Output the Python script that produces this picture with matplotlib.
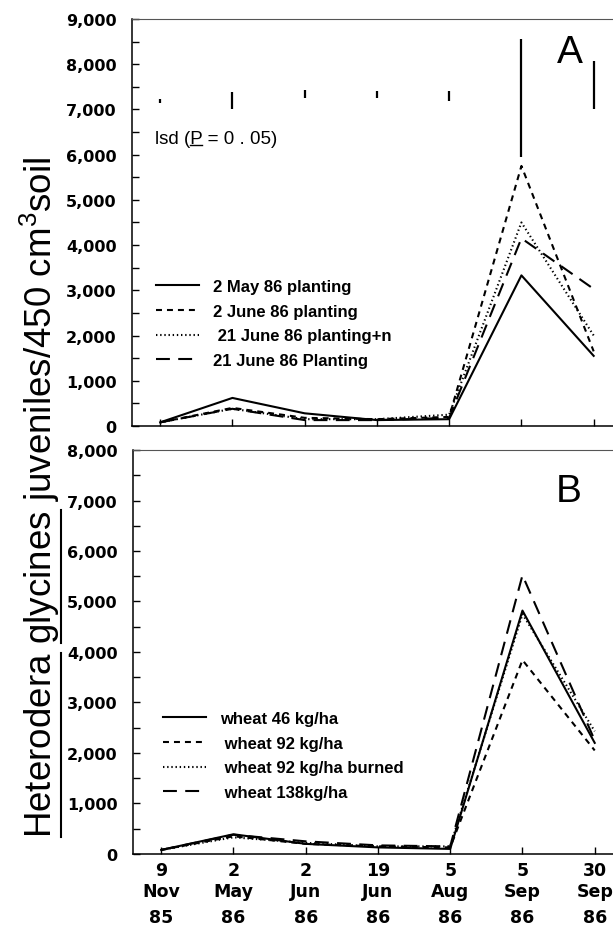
import numpy as np
import matplotlib as mpl
mpl.use('Agg')
from matplotlib import pyplot as plt
from matplotlib.lines import Line2D
import matplotlib.transforms as mtrans

# -- data --
days = ['9', '2', '2', '19', '5', '5', '30']
months = ['Nov', 'May', 'Jun', 'Jun', 'Aug', 'Sep', 'Sep']
years = ['85', '86', '86', '86', '86', '86', '86']

labels_a = ['2 May 86 planting', '2 June 86 planting',
            ' 21 June 86 planting+n', '21 June 86 Planting']
may2 = [80, 620, 280, 130, 150, 3330, 1550]
jun2 = [80, 400, 180, 150, 200, 5750, 1650]
jun21_n = [80, 380, 150, 150, 250, 4500, 2000]
jun21 = [80, 380, 130, 130, 180, 4150, 3030]

# lsd bars drawn at the top of panel A
lsd_low = [7150, 7010, 7260, 7260, 7190, 5950, 7010]
lsd_high = [7230, 7390, 7430, 7410, 7410, 8560, 8070]

labels_b = ['wheat 46 kg/ha', ' wheat 92 kg/ha',
            ' wheat 92 kg/ha burned', ' wheat 138kg/ha']
w46 = [80, 390, 200, 130, 100, 4820, 2200]
w92 = [80, 350, 200, 150, 130, 3840, 2050]
w92b = [80, 330, 220, 150, 150, 4750, 2430]
w138 = [80, 380, 250, 170, 150, 5520, 2250]


def main():
    mpl.rcParams['lines.scale_dashes'] = False
    mpl.rcParams['mathtext.fontset'] = 'custom'
    mpl.rcParams['mathtext.rm'] = 'Liberation Sans'
    mpl.rcParams['font.family'] = ['Liberation Sans', 'DejaVu Sans']

    styles = ['-', (0, (4.3, 3.6)), (0, (1.0, 2.0)), (0, (10, 6))]
    lw = 1.5
    x = np.arange(len(days))

    fig = plt.figure(figsize=(6.13, 9.28), dpi=100)
    ax1 = fig.add_axes([0.2153, 0.5399, 0.785, 0.4386])
    ax2 = fig.add_axes([0.2170, 0.0787, 0.785, 0.4353])

    for ax, ymax in ((ax1, 9000), (ax2, 8000)):
        ax.set_xlim(-0.39, 6.27)
        ax.set_ylim(0, ymax)
        ax.set_xticks(x)
        ax.set_xticklabels([])
        ax.set_yticks(np.arange(0, ymax + 1, 1000))
        ax.set_yticks(np.arange(500, ymax, 1000), minor=True)
        ax.yaxis.set_major_formatter(mpl.ticker.FuncFormatter(lambda v, p: '{:,.0f}'.format(v)))
        ax.tick_params(direction='in', length=5, width=1, which='both')
        ax.tick_params(axis='y', labelsize=11.5, pad=11)
        for t in ax.get_yticklabels():
            t.set_family('DejaVu Sans')
            t.set_weight('bold')
        ax.spines['right'].set_visible(False)
        for s in ('left', 'bottom'):
            ax.spines[s].set_linewidth(1.1)
        ax.spines['top'].set_linewidth(0.8)
        ax.spines['top'].set_color('#555555')

    legend_font = {'family': 'Liberation Sans', 'weight': 'bold', 'size': 12}

    # -- panel A --
    for vals, ls, lab in zip([may2, jun2, jun21_n, jun21], styles, labels_a):
        ax1.plot(x, vals, color='black', lw=lw, linestyle=ls, label=lab)
    ax1.vlines(x, lsd_low, lsd_high, color='black', lw=1.6)
    ax1.legend(loc='upper left', bbox_to_anchor=(156 / 613, 1 - 280 / 928),
               bbox_transform=fig.transFigure, frameon=False,
               borderpad=0, borderaxespad=0, handlelength=2.6,
               handletextpad=0.8, labelspacing=0.58, prop=legend_font)
    ax1.text(0.91, 0.92, 'A', transform=ax1.transAxes, fontsize=28,
             ha='center', va='center')
    lsd_fs = 13.5
    ax1.text(0.047, 0.695, 'lsd (P = 0 . 05)', transform=ax1.transAxes,
             fontsize=lsd_fs, va='baseline')

    # -- panel B --
    for vals, ls, lab in zip([w46, w92, w92b, w138], styles, labels_b):
        ax2.plot(x, vals, color='black', lw=lw, linestyle=ls, label=lab)
    ax2.legend(loc='upper left', bbox_to_anchor=(163 / 613, 1 - 712 / 928),
               bbox_transform=fig.transFigure, frameon=False,
               borderpad=0, borderaxespad=0, handlelength=2.6,
               handletextpad=0.85, labelspacing=0.58, prop=legend_font)
    ax2.text(0.905, 0.898, 'B', transform=ax2.transAxes, fontsize=28,
             ha='center', va='center')

    # -- date labels under panel B --
    tr = mtrans.blended_transform_factory(ax2.transData, fig.transFigure)
    for rows, yp in ((days, 871), (months, 892), (years, 918)):
        for xi, s in zip(x, rows):
            ax2.text(xi, 1 - yp / 928, s, transform=tr, ha='center', va='center',
                     fontsize=12.5, family='DejaVu Sans', weight='bold')

    # -- y label with underlined genus / species --
    ylabel = 'Heterodera glycines juveniles/450 cm$^{3}$soil'
    yfs = 26.5
    ylab = fig.text(0.064, 1 - 497 / 928, ylabel, rotation=90, ha='center',
                    va='center', fontsize=yfs)

    fig.canvas.draw()
    r = fig.canvas.get_renderer()

    def width(s, fs, **kw):
        t = fig.text(0, 0, s, fontsize=fs, **kw)
        w = t.get_window_extent(r).width
        t.remove()
        return w

    inv = fig.transFigure.inverted()
    bb = ylab.get_window_extent(r)
    ux = bb.x1 - 1
    w_h = width('Heterodera', yfs)
    w_hg = width('Heterodera glycines', yfs)
    w_g = width('glycines', yfs)
    for a, b in ((0, w_h), (w_hg - w_g, w_hg)):
        p0 = inv.transform((ux, bb.y0 + a))
        p1 = inv.transform((ux, bb.y0 + b))
        fig.add_artist(Line2D([p0[0], p1[0]], [p0[1], p1[1]], color='black', lw=1.5))

    # underline the P in the lsd note
    bx, by = ax1.transAxes.transform((0.047, 0.695))
    p_end = width('lsd (P', lsd_fs)
    p_w = width('P', lsd_fs)
    p0 = inv.transform((bx + p_end - p_w, by - 2))
    p1 = inv.transform((bx + p_end, by - 2))
    fig.add_artist(Line2D([p0[0], p1[0]], [p0[1], p1[1]], color='black', lw=1.0))

    plt.savefig('out.png', dpi=100)


if __name__ == "__main__":
    main()
